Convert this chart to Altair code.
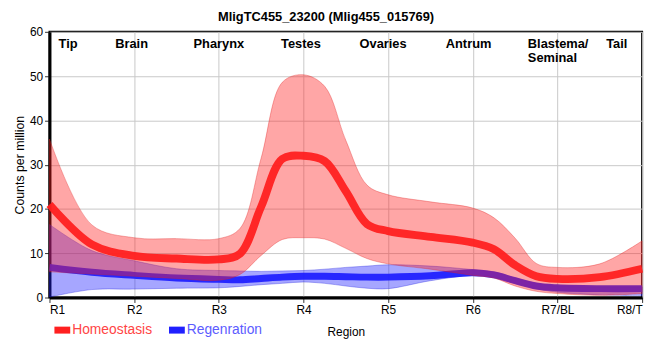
import altair as alt
import pandas as pd

# ---------------- data ----------------
REGIONS = ["R1", "R2", "R3", "R4", "R5", "R6", "R7/BL", "R8/T"]
SERIES = ["Homeostasis", "Regenration"]

X = [0, 0.5, 1, 1.5, 2, 2.25, 2.5, 2.75, 3, 3.25, 3.5, 3.75, 4, 4.5, 5, 5.25, 5.5, 5.75, 6, 6.5, 7]

homeo_mean = [21, 12, 9.4, 8.8, 8.6, 9.9, 20.5, 31.3, 32, 30.8, 24, 16.6, 15.0, 13.7, 12.4, 10.9, 7.3, 4.8, 4.2, 4.6, 6.5]
homeo_upper = [35.8, 16.4, 13.5, 13.3, 13.3, 15.6, 31.5, 48.6, 50.3, 47.7, 35.5, 25.4, 23.2, 21.6, 20.2, 18.0, 13.4, 7.7, 6.8, 7.6, 12.8]
homeo_lower = [5.8, 5.3, 4.8, 4.3, 3.9, 5.2, 9.5, 13.1, 13.5, 13.2, 11.1, 8.8, 7.6, 6.4, 5.0, 4.4, 2.6, 1.4, 0.9, 0.5, 0.9]

regen_mean = [6.8, 5.7, 5.0, 4.4, 4.1, 4.0, 4.3, 4.6, 4.8, 4.8, 4.7, 4.6, 4.6, 4.9, 5.6, 5.1, 3.8, 2.6, 2.2, 2.0, 2.0]
regen_upper = [16.5, 10.6, 8.3, 6.5, 6.1, 6.0, 5.9, 6.0, 6.1, 6.4, 6.8, 7.1, 7.4, 7.1, 6.3, 5.8, 4.4, 3.2, 2.6, 2.4, 2.4]
regen_lower = [0.1, 1.8, 1.9, 2.1, 2.2, 2.5, 2.9, 3.2, 3.5, 3.2, 2.6, 2.1, 2.0, 3.8, 5.0, 4.6, 3.2, 2.0, 1.2, 0.6, 0.4]

SECTION_NAMES = ["Tip", "Brain", "Pharynx", "Testes", "Ovaries", "Antrum", "Tail"]
SECTION_POS = [0.22, 0.97, 2.0, 2.97, 3.94, 4.95, 6.7]
BLASTEMA_NAME = "Blastema/\nSeminal"
BLASTEMA_POS = 5.65
BOUNDARY_POS = 7.5

TITLE = "MligTC455_23200 (Mlig455_015769)"
FONT = "Liberation Sans"

RED = "#ff2020"
BLUE = "#2020ff"
CURVE = "catmull-rom"


def frame(series, mean, lower, upper):
    return pd.DataFrame({"x": X, "mean": mean, "lower": lower, "upper": upper, "series": series})


homeo = frame(SERIES[0], homeo_mean, homeo_lower, homeo_upper)
regen = frame(SERIES[1], regen_mean, regen_lower, regen_upper)
sections = pd.DataFrame({"x": SECTION_POS, "label": SECTION_NAMES})
blastema = pd.DataFrame({"x": [BLASTEMA_POS], "label": [BLASTEMA_NAME]})
boundary = pd.DataFrame({"x": [BOUNDARY_POS]})

# ---------------- scales / axes ----------------
xscale = alt.Scale(domain=[0, 7], nice=False, zero=False)
yscale = alt.Scale(domain=[0, 60], nice=False, zero=True)

x_axis = alt.Axis(
    values=list(range(len(REGIONS))),
    labelExpr=f"{REGIONS}[round(datum.value)]",
    title="Region",
    labelFontSize=12,
    titleFontSize=12,
    titleFontWeight="normal",
    titlePadding=11,
    labelPadding=2,
    tickSize=5,
)
y_axis = alt.Axis(
    values=list(range(0, 61, 5)),
    title="Counts per million",
    labelFontSize=12,
    titleFontSize=12.5,
    titleFontWeight="normal",
    titlePadding=3,
    labelPadding=2,
    tickSize=5,
)

X_ENC = alt.X("x:Q", scale=xscale, axis=x_axis)
color_scale = alt.Scale(domain=SERIES, range=[RED, BLUE])

legend = alt.Legend(
    title=None,
    orient="none",
    legendX=5,
    legendY=294,
    direction="horizontal",
    symbolType="M-1,-0.44H1V0.44H-1Z",
    symbolSize=256,
    symbolOpacity=1,
    symbolStrokeWidth=0,
    labelFontSize=14,
    labelFont=FONT,
    labelColor=alt.ExprRef("datum.label == 'Homeostasis' ? '#ff4545' : '#5c5cff'"),
    labelOffset=2,
    columnPadding=17,
    padding=0,
)


def band(df, stroke):
    return alt.Chart(df).mark_area(
        interpolate=CURVE, fillOpacity=0.4, stroke=stroke, strokeOpacity=0.35, strokeWidth=1
    ).encode(
        x=X_ENC,
        y=alt.Y("lower:Q", scale=yscale, axis=y_axis),
        y2="upper:Q",
        color=alt.Color("series:N", scale=color_scale, legend=legend),
    )


def line(df, color, width):
    return alt.Chart(df).mark_line(
        interpolate=CURVE, color=color, strokeWidth=width, strokeOpacity=0.95
    ).encode(
        x=X_ENC,
        y=alt.Y("mean:Q", scale=yscale, axis=y_axis),
    )


blue_band = band(regen, "#2020e0")
blue_line = line(regen, BLUE, 7)
red_band = band(homeo, "#e02020")
red_line = line(homeo, RED, 8)

rule = alt.Chart(boundary).mark_rule(color="black", strokeWidth=2.5, strokeDash=[6, 4]).encode(
    x=X_ENC,
    y=alt.datum(0, scale=yscale),
    y2=alt.datum(60),
)

text_style = dict(font=FONT, fontSize=13, fontWeight="bold", color="black", baseline="alphabetic")
section_text = alt.Chart(sections).mark_text(align="center", **text_style).encode(
    x=X_ENC, y=alt.datum(56.4, scale=yscale), text="label:N"
)
blastema_text = alt.Chart(blastema).mark_text(align="left", lineBreak="\n", lineHeight=14, **text_style).encode(
    x=X_ENC, y=alt.datum(56.4, scale=yscale), text="label:N"
)

chart = alt.layer(
    blue_band, blue_line, red_band, red_line, rule, section_text, blastema_text
).properties(
    width=600,
    height=269,
    autosize=alt.AutoSizeParams(type="none"),
    padding={"left": 42, "top": 22, "right": 10, "bottom": 50},
    title=alt.Title(TITLE, fontSize=13, fontWeight="bold", font=FONT, anchor="middle", dx=-20, offset=2),
).configure_view(
    stroke="black", strokeWidth=2
).configure_axis(
    labelFont=FONT,
    titleFont=FONT,
    labelColor="black",
    titleColor="black",
    gridColor="#c8c8c8",
    gridWidth=1,
    domainColor="black",
    domainWidth=3,
    tickColor="#333333",
)

chart.save("out.html", embed_options={"renderer": "svg", "actions": False})
